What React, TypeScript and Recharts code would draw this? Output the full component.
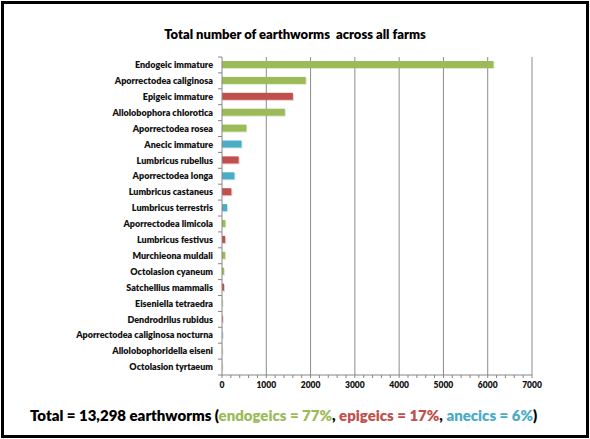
import React from 'react';
import { BarChart, Bar, XAxis, YAxis, CartesianGrid, Cell } from 'recharts';

// species in display order (largest first)
const species = [
  'Endogeic immature',
  'Aporrectodea caliginosa',
  'Epigeic immature',
  'Allolobophora chlorotica',
  'Aporrectodea rosea',
  'Anecic immature',
  'Lumbricus rubellus',
  'Aporrectodea longa',
  'Lumbricus castaneus',
  'Lumbricus terrestris',
  'Aporrectodea limicola',
  'Lumbricus festivus',
  'Murchieona muldali',
  'Octolasion cyaneum',
  'Satchellius mammalis',
  'Eiseniella tetraedra',
  'Dendrodrilus rubidus',
  'Aporrectodea caliginosa nocturna',
  'Allolobophoridella eiseni',
  'Octolasion tyrtaeum',
];

const counts = [6130, 1890, 1600, 1420, 550, 440, 375, 280, 210, 115, 75, 70, 70, 45, 45, 10, 14, 12, 8, 8];

// ecological group of each species
const groups = [
  'endo', 'endo', 'epi', 'endo', 'endo', 'ane', 'epi', 'ane', 'epi', 'ane',
  'endo', 'epi', 'endo', 'endo', 'epi', 'endo', 'epi', 'ane', 'endo', 'endo',
];

const majorTicks = [0, 1000, 2000, 3000, 4000, 5000, 6000, 7000];
const minorTicks = majorTicks.flatMap((v, i) =>
  i < majorTicks.length - 1 ? [v, v + 200, v + 400, v + 600, v + 800] : [v]
);

const groupColors: Record<string, string> = {
  endo: '#9BBB59',
  epi: '#C0504D',
  ane: '#4BACC6',
};

const rows = species.map((name, i) => ({ name, count: counts[i], group: groups[i] }));

const W = 590;
const H = 439;
const MARGIN = { top: 57, right: 58, bottom: 44, left: 0 };
const X_AXIS_H = 20;
const PLOT_H = H - MARGIN.top - MARGIN.bottom - X_AXIS_H;
const BAND = PLOT_H / species.length;
const AXIS_GREY = '#868686';
const FONT = 'Lato, "Open Sans", sans-serif';

const CategoryTick = (props: any) => {
  const { x, y, payload, index } = props;
  return (
    <g>
      {index === 0 && (
        <line x1={x - 4} x2={x} y1={y - BAND / 2} y2={y - BAND / 2} stroke={AXIS_GREY} />
      )}
      <line x1={x - 4} x2={x} y1={y + BAND / 2} y2={y + BAND / 2} stroke={AXIS_GREY} />
      <text
        x={x - 9}
        y={y}
        dy="0.35em"
        textAnchor="end"
        fontSize={9}
        fontWeight={800}
        fontFamily={FONT}
        fill="#111"
      >
        {payload.value}
      </text>
    </g>
  );
};

const ValueTick = (props: any) => {
  const { x, y, payload } = props;
  if (payload.value % 1000 !== 0) return null;
  return (
    <text
      x={x}
      y={y}
      dy="0.71em"
      textAnchor="middle"
      fontSize={8.5}
      fontWeight={800}
      fontFamily={FONT}
      fill="#111"
    >
      {payload.value}
    </text>
  );
};

// Excel-style bar with a soft light fringe on the right/bottom
const BarShape = (props: any) => {
  const { x, y, width, height, fill } = props;
  if (!width || width <= 0) return null;
  return (
    <g>
      <rect x={x + 1} y={y + 1} width={width} height={height} fill={fill} opacity={0.3} />
      <rect x={x} y={y} width={width} height={height} fill={fill} />
    </g>
  );
};

const App: React.FC = () => {
  return (
    <div
      style={{
        position: 'absolute',
        left: 0,
        top: 0,
        width: W,
        height: H,
        background: '#fff',
        fontFamily: FONT,
      }}
    >
      <BarChart width={W} height={H} data={rows} layout="vertical" margin={MARGIN}>
        <CartesianGrid horizontal={false} verticalValues={majorTicks.slice(1)} stroke="#8c8c8c" />
        <XAxis
          type="number"
          domain={[0, 7000]}
          ticks={minorTicks}
          interval={0}
          height={X_AXIS_H}
          axisLine={{ stroke: AXIS_GREY }}
          tickLine={{ stroke: AXIS_GREY }}
          tickSize={3}
          tickMargin={4}
          tick={<ValueTick />}
        />
        <YAxis
          type="category"
          dataKey="name"
          width={222}
          interval={0}
          axisLine={{ stroke: AXIS_GREY }}
          tickLine={false}
          tickSize={0}
          tickMargin={0}
          tick={<CategoryTick />}
        />
        <Bar dataKey="count" barSize={7} isAnimationActive={false} shape={<BarShape />}>
          {rows.map((r) => (
            <Cell key={r.name} fill={groupColors[r.group]} />
          ))}
        </Bar>
      </BarChart>

      <div
        style={{
          position: 'absolute',
          left: 0,
          width: W,
          top: 26,
          textAlign: 'center',
          fontSize: 13,
          fontWeight: 800,
          color: '#000',
          whiteSpace: 'pre',
        }}
      >
        {'Total number of earthworms  across all farms'}
      </div>

      <div
        style={{
          position: 'absolute',
          left: 30,
          top: 406,
          fontSize: 15,
          fontWeight: 800,
          color: '#000',
          whiteSpace: 'nowrap',
        }}
      >
        Total = 13,298 earthworms (
        <span style={{ color: groupColors.endo }}>endogeics = 77%</span>,{' '}
        <span style={{ color: groupColors.epi }}>epigeics = 17%</span>,{' '}
        <span style={{ color: groupColors.ane }}>anecics = 6%</span>)
      </div>

      <div
        style={{
          position: 'absolute',
          left: 1,
          top: 1,
          width: 588,
          height: 437,
          border: '3px solid #000',
          boxSizing: 'border-box',
          pointerEvents: 'none',
        }}
      />
    </div>
  );
};

export default App;
